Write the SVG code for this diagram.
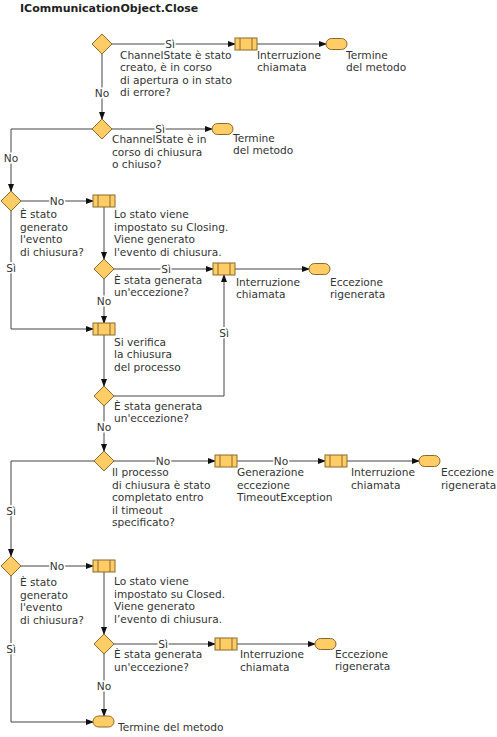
<svg xmlns="http://www.w3.org/2000/svg" width="497" height="737" viewBox="0 0 497 737">
<style>
text{font-family:"DejaVu Sans",Verdana,sans-serif;font-size:10.6px;fill:#333}
.title{font-weight:bold;font-size:11px;fill:#222}
.lbl{text-anchor:middle;paint-order:stroke;stroke:#fff;stroke-width:3px}
.shape{fill:#FFCC66;stroke:#8a6a2a;stroke-width:1}
.in{stroke:#8a6a2a;stroke-width:1}
.c{fill:none;stroke:#444;stroke-width:1}
</style>
<defs>
<marker id="a" markerWidth="8" markerHeight="6" refX="7" refY="3" orient="auto" markerUnits="userSpaceOnUse">
<path d="M0,0 L8,3 L0,6 Z" fill="#111"/>
</marker>
<polygon id="dm" points="0,-10 10,0 0,10 -10,0" class="shape"/>
<g id="bx"><rect x="0" y="0" width="22" height="12" class="shape"/><line x1="5" y1="0" x2="5" y2="12" class="in"/><line x1="17" y1="0" x2="17" y2="12" class="in"/></g>
<rect id="tm" x="0" y="0" width="21" height="11" rx="5.5" class="shape"/>
</defs>
<text x="20" y="12" class="title">ICommunicationObject.Close</text>

<g id="connectors">
<path class="c" d="M112,44 H235" marker-end="url(#a)"/>
<path class="c" d="M257,44 H326" marker-end="url(#a)"/>
<path class="c" d="M102,54 V119" marker-end="url(#a)"/>
<path class="c" d="M112,129 H212" marker-end="url(#a)"/>
<path class="c" d="M92,129 H11 V191" marker-end="url(#a)"/>
<path class="c" d="M21,201 H93" marker-end="url(#a)"/>
<path class="c" d="M11,211 V329 H93" marker-end="url(#a)"/>
<path class="c" d="M104,207 V259" marker-end="url(#a)"/>
<path class="c" d="M114,269 H213" marker-end="url(#a)"/>
<path class="c" d="M235,269 H309" marker-end="url(#a)"/>
<path class="c" d="M104,279 V323" marker-end="url(#a)"/>
<path class="c" d="M104,335 V386" marker-end="url(#a)"/>
<path class="c" d="M114,396 H224 V275" marker-end="url(#a)"/>
<path class="c" d="M104,406 V451" marker-end="url(#a)"/>
<path class="c" d="M114,461 H215" marker-end="url(#a)"/>
<path class="c" d="M237,461 H325" marker-end="url(#a)"/>
<path class="c" d="M347,461 H419" marker-end="url(#a)"/>
<path class="c" d="M94,461 H11 V556" marker-end="url(#a)"/>
<path class="c" d="M21,566 H93" marker-end="url(#a)"/>
<path class="c" d="M104,572 V634" marker-end="url(#a)"/>
<path class="c" d="M11,576 V722 H93" marker-end="url(#a)"/>
<path class="c" d="M114,644 H215" marker-end="url(#a)"/>
<path class="c" d="M237,644 H315" marker-end="url(#a)"/>
<path class="c" d="M104,654 V716" marker-end="url(#a)"/>
<text class="lbl" x="170" y="47.5">Sì</text>
<text class="lbl" x="102" y="97">No</text>
<text class="lbl" x="160" y="132.5">Sì</text>
<text class="lbl" x="11" y="162">No</text>
<text class="lbl" x="57" y="204.5">No</text>
<text class="lbl" x="11" y="272">Sì</text>
<text class="lbl" x="166" y="272.5">Sì</text>
<text class="lbl" x="104" y="305">No</text>
<text class="lbl" x="224" y="337">Sì</text>
<text class="lbl" x="104" y="431">No</text>
<text class="lbl" x="163" y="464.5">No</text>
<text class="lbl" x="281" y="464.5">No</text>
<text class="lbl" x="11" y="515">Sì</text>
<text class="lbl" x="57" y="569.5">No</text>
<text class="lbl" x="11" y="653">Sì</text>
<text class="lbl" x="163" y="647.5">Sì</text>
<text class="lbl" x="104" y="690">No</text>
</g>

<g id="d1"><use href="#dm" x="102" y="44"/>
<text x="120" y="58.5">ChannelState è stato</text><text x="120" y="71">creato, è in corso</text><text x="120" y="83.5">di apertura o in stato</text><text x="120" y="96">di errore?</text></g>
<g id="b1"><use href="#bx" x="235" y="38"/><text x="257" y="58.5">Interruzione</text><text x="257" y="71">chiamata</text></g>
<g id="t1"><use href="#tm" x="326" y="38.5"/><text x="346" y="58.5">Termine</text><text x="346" y="71">del metodo</text></g>

<g id="d2"><use href="#dm" x="102" y="129"/>
<text x="112" y="143">ChannelState è in</text><text x="112" y="155.5">corso di chiusura</text><text x="112" y="168">o chiuso?</text></g>
<g id="t2"><use href="#tm" x="212" y="123.5"/><text x="233" y="141.5">Termine</text><text x="233" y="154">del metodo</text></g>

<g id="d3"><use href="#dm" x="11" y="201"/>
<text x="20" y="218">È stato</text><text x="20" y="231">generato</text><text x="20" y="243">l'evento</text><text x="20" y="256">di chiusura?</text></g>
<g id="b2"><use href="#bx" x="93" y="195"/>
<text x="114" y="218">Lo stato viene</text><text x="114" y="231">impostato su Closing.</text><text x="114" y="243">Viene generato</text><text x="114" y="256">l'evento di chiusura.</text></g>

<g id="d4"><use href="#dm" x="104" y="269"/><text x="114" y="283.5">È stata generata</text><text x="114" y="295.5">un'eccezione?</text></g>
<g id="b3"><use href="#bx" x="213" y="263"/><text x="236" y="286">Interruzione</text><text x="236" y="298">chiamata</text></g>
<g id="t3"><use href="#tm" x="309" y="263.5"/><text x="330" y="286">Eccezione</text><text x="330" y="298">rigenerata</text></g>

<g id="b4"><use href="#bx" x="93" y="323"/><text x="114" y="346">Si verifica</text><text x="114" y="358">la chiusura</text><text x="114" y="371">del processo</text></g>
<g id="d5"><use href="#dm" x="104" y="396"/><text x="114" y="410">È stata generata</text><text x="114" y="422">un'eccezione?</text></g>

<g id="d6"><use href="#dm" x="104" y="461"/>
<text x="112" y="476">Il processo</text><text x="112" y="488.5">di chiusura è stato</text><text x="112" y="501">completato entro</text><text x="112" y="513.5">il timeout</text><text x="112" y="526">specificato?</text></g>
<g id="b5"><use href="#bx" x="215" y="455"/><text x="237" y="476">Generazione</text><text x="237" y="488.5">eccezione</text><text x="237" y="501">TimeoutException</text></g>
<g id="b7"><use href="#bx" x="325" y="455"/><text x="351" y="476">Interruzione</text><text x="351" y="488.5">chiamata</text></g>
<g id="t4"><use href="#tm" x="419" y="455.5"/><text x="441" y="476">Eccezione</text><text x="441" y="488.5">rigenerata</text></g>

<g id="d7"><use href="#dm" x="11" y="566"/>
<text x="20" y="586">È stato</text><text x="20" y="598.5">generato</text><text x="20" y="611">l'evento</text><text x="20" y="623.5">di chiusura?</text></g>
<g id="b6"><use href="#bx" x="93" y="560"/>
<text x="114" y="585">Lo stato viene</text><text x="114" y="597.5">impostato su Closed.</text><text x="114" y="610">Viene generato</text><text x="114" y="622.5">l’evento di chiusura.</text></g>

<g id="d8"><use href="#dm" x="104" y="644"/><text x="114" y="658">È stata generata</text><text x="114" y="670.5">un'eccezione?</text></g>
<g id="b8"><use href="#bx" x="215" y="638"/><text x="240" y="658">Interruzione</text><text x="240" y="671">chiamata</text></g>
<g id="t6"><use href="#tm" x="315" y="638.5"/><text x="335" y="658">Eccezione</text><text x="335" y="670">rigenerata</text></g>

<g id="t5"><use href="#tm" x="93" y="716"/><text x="118" y="731">Termine del metodo</text></g>
</svg>
